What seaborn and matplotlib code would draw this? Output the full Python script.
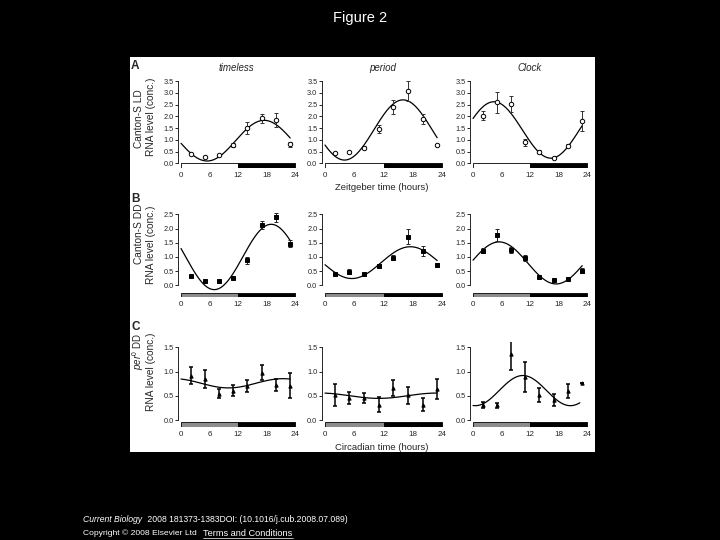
import numpy as np
import seaborn as sns
import matplotlib.pyplot as plt
from matplotlib.lines import Line2D
from matplotlib.patches import Rectangle

sns.set_style("ticks")
plt.rcParams['font.family'] = ['Liberation Sans', 'DejaVu Sans']
plt.rcParams['mathtext.fontset'] = 'custom'
plt.rcParams['mathtext.rm'] = 'Liberation Sans'
plt.rcParams['mathtext.it'] = 'Liberation Sans:italic'

W, H = 720, 540

# sampling times (hours)
times = [2, 5, 8, 11, 14, 17, 20, 23]

# A: Canton-S LD
tim_ld = [0.38, 0.27, 0.37, 0.78, 1.49, 1.91, 1.84, 0.81]
tim_ld_err = [0.04, 0.03, 0.03, 0.08, 0.25, 0.18, 0.30, 0.10]
per_ld = [0.45, 0.48, 0.66, 1.47, 2.38, 3.08, 1.89, 0.77]
per_ld_err = [0.04, 0.04, 0.06, 0.18, 0.30, 0.42, 0.20, 0.05]
clk_ld = [2.03, 2.59, 2.52, 0.89, 0.50, 0.24, 0.75, 1.80]
clk_ld_err = [0.18, 0.46, 0.35, 0.15, 0.05, 0.03, 0.06, 0.42]

# B: Canton-S DD
tim_dd = [0.34, 0.16, 0.16, 0.27, 0.88, 2.12, 2.39, 1.47]
tim_dd_err = [0.04, 0.03, 0.03, 0.04, 0.13, 0.15, 0.17, 0.12]
per_dd = [0.39, 0.48, 0.39, 0.67, 0.98, 1.72, 1.20, 0.71]
per_dd_err = [0.03, 0.08, 0.03, 0.07, 0.10, 0.28, 0.17, 0.06]
clk_dd = [1.22, 1.77, 1.25, 0.96, 0.30, 0.19, 0.23, 0.52]
clk_dd_err = [0.08, 0.20, 0.10, 0.10, 0.04, 0.02, 0.02, 0.10]

# C: per0 DD
tim_p0 = [0.92, 0.85, 0.55, 0.61, 0.71, 0.98, 0.73, 0.71]
tim_p0_err = [0.18, 0.19, 0.10, 0.11, 0.12, 0.15, 0.12, 0.26]
per_p0 = [0.52, 0.46, 0.46, 0.32, 0.66, 0.51, 0.32, 0.64]
per_p0_err = [0.22, 0.12, 0.11, 0.15, 0.17, 0.18, 0.13, 0.21]
clk_p0 = [0.31, 0.31, 1.36, 0.89, 0.52, 0.42, 0.60, 0.76]
clk_p0_err = [0.06, 0.05, 0.32, 0.30, 0.15, 0.12, 0.14, 0.0]

# cosinor fits: mesor, amplitude, peak time, period, last hour drawn
fit_tim_ld = (0.965, 0.865, 17.5, 24, 23)
fit_per_ld = (1.42, 1.28, 16.0, 24, 23)
fit_clk_ld = (1.42, 1.20, 4.4, 24, 23)
fit_tim_dd = (1.00, 1.15, 19.0, 24, 23)
fit_per_dd = (0.80, 0.56, 17.5, 24, 23)
fit_clk_dd = (0.79, 0.74, 5.5, 24, 23)
fit_tim_p0 = (0.76, 0.095, 21.5, 23, 23)
fit_per_p0 = (0.505, 0.055, 23.0, 24, 23)
fit_clk_p0 = (0.61, 0.31, 10.5, 20, 22.5)

genes = ["timeless", "period", "Clock"]
xticks = [0, 6, 12, 18, 24]


def box(l, t, r, b):
    return [l / W, 1 - b / H, (r - l) / W, (b - t) / H]


cols = [(177.7, 296.4), (321.6, 443.5), (469.7, 588.4)]
rows = [
    dict(tb=(78.7, 168.3), ylim=(-0.21, 3.6), ytop=3.5, bar=(-0.21, 0.21), first="white",
         marker="o", mfc="white", ms=3.2, elw=0.7, ecol="#333333",
         data=[(tim_ld, tim_ld_err, fit_tim_ld), (per_ld, per_ld_err, fit_per_ld),
               (clk_ld, clk_ld_err, fit_clk_ld)]),
    dict(tb=(211.5, 297.3), ylim=(-0.42, 2.6), ytop=2.5, bar=(-0.42, 0.16), first="#8c8c8c",
         marker="s", mfc="black", ms=2.4, elw=0.7, ecol="#222222",
         data=[(tim_dd, tim_dd_err, fit_tim_dd), (per_dd, per_dd_err, fit_per_dd),
               (clk_dd, clk_dd_err, fit_clk_dd)]),
    dict(tb=(342.4, 427.1), ylim=(-0.14, 1.6), ytop=1.5, bar=(-0.14, 0.10), first="#8c8c8c",
         marker="^", mfc="black", ms=2.4, elw=1.1, ecol="black",
         data=[(tim_p0, tim_p0_err, fit_tim_p0), (per_p0, per_p0_err, fit_per_p0),
               (clk_p0, clk_p0_err, fit_clk_p0)]),
]

fig = plt.figure(figsize=(7.2, 5.4), dpi=100, facecolor="black")
fig.add_artist(Rectangle((130 / W, 1 - 452 / H), 465 / W, 395 / H,
                         transform=fig.transFigure, facecolor="white", edgecolor="none", zorder=0))

for r, row in enumerate(rows):
    for c, (vals, errs, fit) in enumerate(row["data"]):
        ax = fig.add_axes(box(cols[c][0], row["tb"][0], cols[c][1], row["tb"][1]))
        ax.set_facecolor("none")
        m, a, pk, per, end = fit
        xs = np.linspace(0, end, 200)
        ys = m + a * np.cos(2 * np.pi * (xs - pk) / per)
        sns.lineplot(x=xs, y=ys, ax=ax, color="black", lw=0.9, zorder=3)
        ax.errorbar(times, vals, yerr=errs, fmt="none", ecolor=row["ecol"],
                    elinewidth=row["elw"], capsize=1.6, capthick=row["elw"], zorder=4)
        ax.plot(times, vals, ls="none", marker=row["marker"], ms=row["ms"],
                mfc=row["mfc"], mec="black", mew=0.7, zorder=5)
        # light/dark bar
        y0, h = row["bar"]
        ax.broken_barh([(0, 12), (12, 12)], (y0, h), facecolors=[row["first"], "black"],
                       edgecolor="black", linewidth=0.6, zorder=2)
        ax.set_xlim(-0.7, 24.3)
        ax.set_ylim(*row["ylim"])
        ax.set_xticks(xticks)
        ax.set_xticklabels([str(t) for t in xticks])
        ax.set_yticks(np.arange(0, row["ytop"] + 0.01, 0.5))
        ax.set_yticklabels([f"{v:.1f}" for v in np.arange(0, row["ytop"] + 0.01, 0.5)])
        ax.tick_params(axis="x", length=0, pad=2.5, labelsize=5.8)
        ax.tick_params(axis="y", length=2, width=0.7, pad=1, labelsize=5.3)
        for s in ["top", "right", "bottom"]:
            ax.spines[s].set_visible(False)
        ax.spines["left"].set_bounds(0, row["ytop"])
        ax.spines["left"].set_linewidth(0.7)
        ax.set_xlabel("")
        ax.set_ylabel("")


def ftext(x, y, s, **kw):
    fig.text(x / W, 1 - y / H, s, **kw)


for x, g in zip([236, 383, 530], genes):
    ftext(x, 68, g, ha="center", va="center", fontsize=7, style="italic")

ftext(382, 188, "Zeitgeber time (hours)", ha="center", va="center", fontsize=6.8)
ftext(382, 447, "Circadian time (hours)", ha="center", va="center", fontsize=6.8)

for x, y, s in [(131, 66, "A"), (131, 199, "B"), (131, 327, "C")]:
    ftext(x, y, s, ha="left", va="center", fontsize=8.5, fontweight="bold")

ylab = dict(rotation=90, ha="center", va="center", fontsize=7.3)
ftext(139.5, 119, "Canton-S LD", **ylab)
ftext(151, 117, "RNA level (conc.)", **ylab)
ftext(139.5, 234, "Canton-S DD", **ylab)
ftext(151, 245, "RNA level (conc.)", **ylab)
ftext(138.5, 351, r"$\mathit{per}^{0}$ DD", rotation=90, ha="center", va="center", fontsize=7)
ftext(151, 372, "RNA level (conc.)", **ylab)

# slide title and footer
ftext(360, 18, "Figure 2", ha="center", va="center", fontsize=10.5, color="white")
ftext(83, 520, "Current Biology", ha="left", va="center", fontsize=6.2, color="white", style="italic")
ftext(145, 520, " 2008 181373-1383DOI: (10.1016/j.cub.2008.07.089)", ha="left", va="center",
      fontsize=6.2, color="white")
ftext(83, 533, "Copyright \u00a9 2008 Elsevier Ltd", ha="left", va="center", fontsize=6.1, color="white")
ftext(203, 533, "Terms and Conditions", ha="left", va="center", fontsize=6.6, color="white")
fig.add_artist(Line2D([203 / W, 293 / W], [1 - 537.5 / H, 1 - 537.5 / H], color="white", lw=0.5))

fig.savefig("out.png", dpi=100, facecolor="black")
